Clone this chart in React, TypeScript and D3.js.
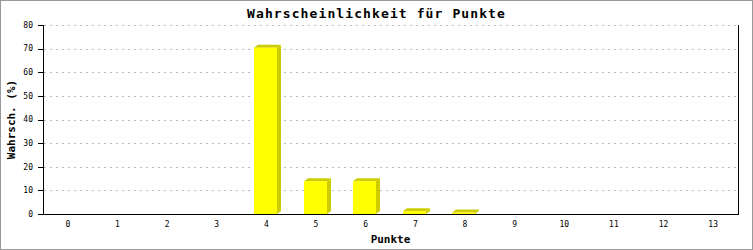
import React from "react";
import * as d3 from "d3";

const categories = ["0","1","2","3","4","5","6","7","8","9","10","11","12","13"];
const values = [0, 0, 0, 0, 70.4, 13.9, 13.9, 1.2, 0.6, 0, 0, 0, 0, 0];
const yTicks = [0, 10, 20, 30, 40, 50, 60, 70, 80];
const title = "Wahrscheinlichkeit für Punkte";
const xTitle = "Punkte";
const yTitle = "Wahrsch. (%)";

const W = 753, H = 250;
const L = 43, R = 738, T = 25, B = 214;
const MONO = "'DejaVu Sans Mono', 'Liberation Mono', monospace";

export default function App() {
  const x = d3.scaleBand<string>().domain(categories).range([L, R]);
  const y = d3.scaleLinear().domain([0, 80]).range([B, T]);
  const fw = 23, dx = 4, dy = 3;
  return (
    <svg width={W} height={H} style={{ position: "absolute", left: 0, top: 0, background: "#fff" }}>
      <rect x={0.5} y={0.5} width={W - 1} height={H - 1} fill="#fff" stroke="#999" />
      <text x={W / 2} y={18} textAnchor="middle" fontFamily={MONO} fontSize={13} fontWeight="bold" letterSpacing={1.1}>{title}</text>
      {yTicks.filter(t => t > 0).map(t => (
        <line key={"g" + t} x1={L + 1} x2={R} y1={Math.round(y(t)) + 0.5} y2={Math.round(y(t)) + 0.5} stroke="#bbb" strokeDasharray="2,4" />
      ))}
      {values.map((v, i) => {
        if (v <= 0) return null;
        const cx = x(categories[i])! + x.bandwidth() / 2 - 1;
        const x0 = Math.round(cx - fw / 2), x1 = x0 + fw;
        const top = y(v), bot = B;
        return (
          <g key={i}>
            <polygon points={`${x0},${top} ${x0 + dx},${top - dy} ${x1 + dx},${top - dy} ${x1},${top}`} fill="#cccc00" />
            <polygon points={`${x1},${top} ${x1 + dx},${top - dy} ${x1 + dx},${bot - dy} ${x1},${bot}`} fill="#cccc00" />
            <rect x={x0} y={top} width={fw} height={bot - top} fill="#ffff00" />
          </g>
        );
      })}
      <line x1={L + 0.5} x2={L + 0.5} y1={T} y2={B + 0.5} stroke="#000" />
      <line x1={R + 0.5} x2={R + 0.5} y1={T} y2={B + 0.5} stroke="#000" />
      <line x1={L} x2={R + 1} y1={B + 0.5} y2={B + 0.5} stroke="#000" />
      {yTicks.map(t => (
        <g key={"t" + t}>
          <line x1={38} x2={L} y1={Math.round(y(t)) + 0.5} y2={Math.round(y(t)) + 0.5} stroke="#000" />
          <text x={33} y={y(t) + 2.8} textAnchor="end" fontFamily={MONO} fontSize={8}>{t}</text>
        </g>
      ))}
      {categories.map(c => (
        <text key={"x" + c} x={x(c)! + x.bandwidth() / 2} y={227} textAnchor="middle" fontFamily={MONO} fontSize={8}>{c}</text>
      ))}
      <text x={(L + R) / 2} y={243} textAnchor="middle" fontFamily={MONO} fontSize={11} fontWeight="bold">{xTitle}</text>
      <text transform={`translate(15,${(T + B) / 2}) rotate(-90)`} textAnchor="middle" fontFamily={MONO} fontSize={11} fontWeight="bold">{yTitle}</text>
    </svg>
  );
}
